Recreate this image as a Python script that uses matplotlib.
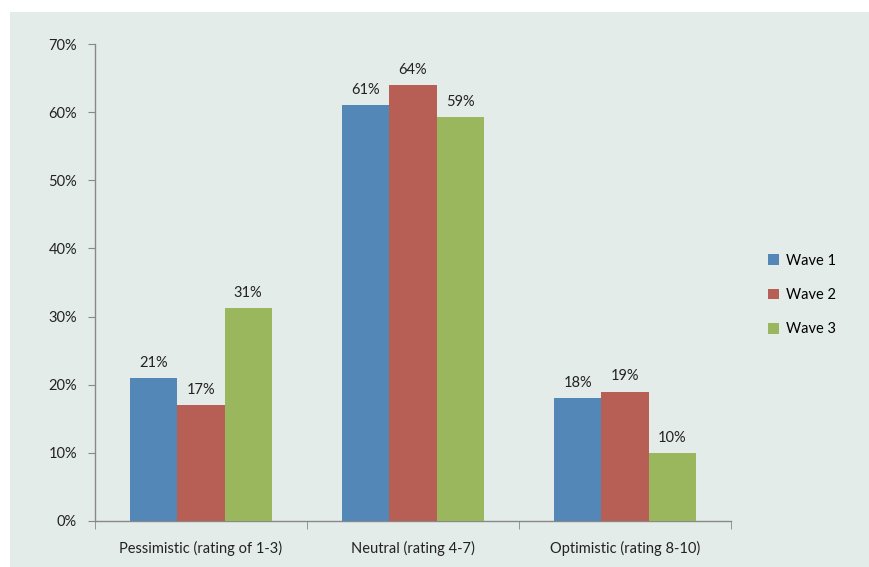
import matplotlib
matplotlib.use("Agg")
import matplotlib.pyplot as plt
from matplotlib.patches import Rectangle
from matplotlib.ticker import FuncFormatter, FixedLocator
import numpy as np

categories = ["Pessimistic (rating of 1-3)", "Neutral (rating 4-7)", "Optimistic (rating 8-10)"]
series_names = ["Wave 1", "Wave 2", "Wave 3"]
wave1 = [21.0, 61.0, 18.0]
wave2 = [17.0, 64.0, 19.0]
wave3 = [31.3, 59.3, 10.0]
colors = ["#5387B7", "#B75F55", "#9AB75E"]

plt.rcParams['font.family'] = ['Lato', 'DejaVu Sans']
bg = "#E3ECE9"

fig = plt.figure(figsize=(8.7, 5.67), dpi=100)
fig.patch.set_facecolor("white")
fig.patches.append(Rectangle((10/870, 0), 1 - 10/870, 1 - 12/567, transform=fig.transFigure,
                             facecolor=bg, edgecolor="none", zorder=-10))

ax = fig.add_axes([95/870, 1 - 521/567, (731 - 95)/870, (521 - 44)/567])
ax.set_facecolor(bg)
ax.patch.set_alpha(0)

x = np.arange(len(categories))
w = 0.222
for i, (vals, name, c) in enumerate(zip([wave1, wave2, wave3], series_names, colors)):
    pos = x + (i - 1) * w
    ax.bar(pos, vals, width=w, color=c, label=name, zorder=3)
    for p, v in zip(pos, vals):
        ax.text(p, v + 1.2, f"{round(v)}%", ha="center", va="bottom", fontsize=10.5, color="#222222")

ax.set_xlim(-0.5, 2.5)
ax.set_ylim(0, 70)
ax.set_yticks(np.arange(0, 71, 10))
ax.yaxis.set_major_formatter(FuncFormatter(lambda v, p: f"{int(v)}%"))
ax.set_xticks(x)
ax.set_xticklabels(categories)
ax.xaxis.set_minor_locator(FixedLocator([-0.5, 0.5, 1.5, 2.5]))
ax.tick_params(axis="x", which="major", length=0, pad=14, labelsize=10.5, labelcolor="#222222")
ax.tick_params(axis="x", which="minor", length=6, direction="out", color="#888888")
ax.tick_params(axis="y", length=5, direction="out", color="#888888", labelsize=10.5, labelcolor="#222222", pad=8)

for s in ["top", "right"]:
    ax.spines[s].set_visible(False)
for s in ["left", "bottom"]:
    ax.spines[s].set_color("#888888")
    ax.spines[s].set_linewidth(1.0)

fig.legend(loc="center left", bbox_to_anchor=(755/870, 1 - 295/567), frameon=False,
           handlelength=0.75, handleheight=0.75, handletextpad=0.5, labelspacing=1.4,
           fontsize=10.5)

fig.savefig("out.png", dpi=100, facecolor=fig.get_facecolor())
